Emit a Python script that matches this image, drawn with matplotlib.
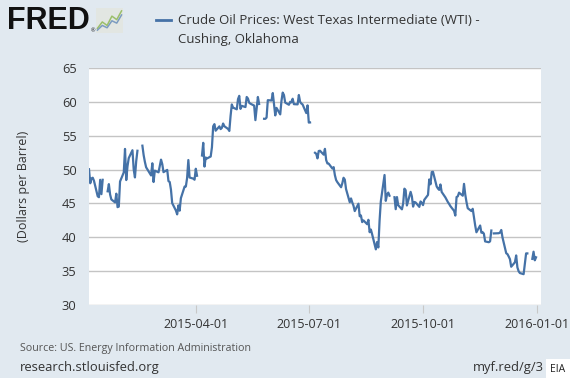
import numpy as np
import pandas as pd
import matplotlib
matplotlib.use("Agg")
import matplotlib.pyplot as plt
from matplotlib.patches import Rectangle

nan = np.nan
# WTI daily spot prices (USD/bbl), business days; NaN = holiday (no quote)
jan = [50.05, 47.98, 48.69, 48.80, 48.35, 46.06, 45.92, 48.49, 46.37, 48.49, nan,
       46.79, 47.85, 46.31, 45.59, 45.15, 46.44, 44.45, 44.53, 48.24]
feb = [49.58, 53.05, 48.45, 50.48, 51.69, 52.86, 50.02, 48.84, 51.21, 52.78, nan,
       53.53, 52.14, 51.14, 50.34, 49.45, 49.13, 50.93, 48.16, 49.84]
mar = [49.59, 50.54, 51.47, 50.81, 49.62, 49.95, 48.29, 48.17, 47.04, 45.04, 43.95,
       43.38, 44.71, 43.93, 45.78, 47.49, 47.50, 48.75, 51.41, 48.83, 48.66, 48.50]
apr = [50.12, 49.09, nan, 52.08, 53.95, 50.44, 51.78, 51.64, 51.93, 53.29, 56.39,
       56.71, 55.74, 56.38, 55.98, 56.16, 56.80, 56.40, 56.00, 55.70, 57.90, 59.62]
may = [59.15, 58.90, 60.40, 60.89, 58.96, 59.41, 59.23, 60.72, 60.49, 59.87, 59.73,
       59.45, 57.30, 58.96, 60.72, 59.69, nan, 57.50, 57.49, 57.68, 60.25]
jun = [60.20, 61.30, 59.67, 58.00, 59.11, 58.15, 60.15, 61.37, 61.01, 59.89, 59.57,
       60.01, 59.92, 60.46, 59.66, 59.63, 61.01, 60.01, 59.75, 59.62, 58.34, 59.48]
jul = [56.94, 56.96, nan, 52.48, 52.33, 51.65, 52.74, 52.78, 52.20, 53.06, 51.40,
       50.90, 50.88, 50.15, 50.36, 49.19, 48.45, 48.14, 47.39, 47.98, 48.79, 48.52, 47.12]
aug = [45.17, 45.74, 45.15, 44.66, 43.87, 44.96, 43.11, 43.22, 42.24, 42.50, 41.93,
       42.58, 40.75, 41.14, 40.45, 38.22, 39.30, 38.50, 42.45, 45.29, 49.20]
sep = [45.38, 46.30, 46.60, 46.14, nan, 45.92, 44.15, 45.94, 44.74, 44.13, 45.00,
       47.18, 46.96, 44.70, 46.71, 46.04, 44.53, 45.22, 45.14, 44.49, 45.29, 45.06]
oct_ = [44.75, 45.53, 46.26, 48.54, 47.82, 49.63, 49.68, 47.50, 47.20, 47.00, 47.80,
        46.70, 45.89, 45.55, 45.20, 44.93, 44.61, 43.90, 43.21, 45.94, 46.05, 46.59]
nov = [46.14, 47.89, 46.32, 45.20, 44.29, 43.87, 44.21, 42.93, 41.75, 40.74, 41.74,
       40.67, 40.75, 40.54, 39.39, 39.27, 39.40, 41.00, nan, 40.57, 40.60]
dec = [40.60, 40.70, 41.08, 39.97, 37.64, 37.51, 37.16, 36.76, 35.65, 36.31, 37.32,
       35.55, 34.98, 34.72, 34.55, 36.12, 37.62, 37.62, nan, 36.81, 37.87, 36.60, 37.04]
months = ["2015-01", "2015-02", "2015-03", "2015-04", "2015-05", "2015-06",
          "2015-07", "2015-08", "2015-09", "2015-10", "2015-11", "2015-12"]
month_values = [jan, feb, mar, apr, may, jun, jul, aug, sep, oct_, nov, dec]

y_ticks = [30, 35, 40, 45, 50, 55, 60, 65]
x_ticks = ["2015-04-01", "2015-07-01", "2015-10-01", "2016-01-01"]

title_line1 = "Crude Oil Prices: West Texas Intermediate (WTI) -"
title_line2 = "Cushing, Oklahoma"
y_label = "(Dollars per Barrel)"
source_text = "Source: US. Energy Information Administration"

dates = []
values = []
for m, vals in zip(months, month_values):
    start = pd.Timestamp(m + "-01")
    if m == "2015-01":
        start = pd.Timestamp("2015-01-05")
    d = pd.bdate_range(start, start + pd.offsets.MonthEnd(0))
    assert len(d) == len(vals), (m, len(d), len(vals))
    dates.extend(d)
    values.extend(vals)
dates = pd.DatetimeIndex(dates)
values = np.array(values, dtype=float)

BG = "#e1e9f0"
LINE = "#4572a7"
TXT = "#333333"
plt.rcParams['font.family'] = ['Open Sans', 'DejaVu Sans']

fig = plt.figure(figsize=(5.7, 3.78), dpi=100, facecolor=BG)
W, H = 570, 378
ax = fig.add_axes([89 / W, (H - 305) / H, 452 / W, 237 / H])
ax.set_facecolor("white")
ax.plot(dates, values, color=LINE, lw=1.6, solid_joinstyle="round")
ax.set_ylim(30, 65)
ax.set_xlim(pd.Timestamp("2015-01-05"), pd.Timestamp("2016-01-04"))
ax.set_yticks(y_ticks)
ax.set_xticks(pd.to_datetime(x_ticks))
ax.set_xticklabels(x_ticks)
ax.grid(axis="y", color="#c4c4c4", lw=1)
ax.set_axisbelow(True)
for s in ax.spines.values():
    s.set_visible(False)
ax.tick_params(axis="y", length=0, pad=9, labelsize=9.3, labelcolor=TXT)
ax.tick_params(axis="x", length=6, width=0.8, color="#c8c8c8", pad=3,
               labelsize=9, labelcolor=TXT)
ax.set_ylabel(y_label, fontsize=9, color=TXT, labelpad=23)

# Header: FRED logo + legend
fig.text(7 / W, 1 - 21 / H, "FRED", fontsize=22, fontweight="heavy",
         family="Liberation Sans", color="#111111", va="center", ha="left")
fig.text(91 / W, 1 - 31 / H, "®", fontsize=4, color="#111111", va="center")
icon = fig.add_axes([96 / W, 1 - 33 / H, 27 / W, 25 / H])
icon.set_facecolor("#e2e6e2")
icon.plot([0, 1, 2, 3, 4, 5], [0.5, 1.6, 1.0, 2.6, 2.0, 3.5], color="#9bbf6a", lw=1.1)
icon.plot([0, 1, 2, 3, 4, 5], [0.2, 1.0, 0.6, 1.8, 1.4, 2.8], color="#7c9cc0", lw=1.1)
icon.set_xlim(-0.3, 5.3)
icon.set_ylim(-0.3, 4)
icon.set_xticks([])
icon.set_yticks([])
for s in icon.spines.values():
    s.set_visible(False)

fig.add_artist(plt.Line2D([156 / W, 171 / W], [1 - 20 / H, 1 - 20 / H],
                          color=LINE, lw=2, transform=fig.transFigure))
fig.text(178 / W, 1 - 20 / H, title_line1, fontsize=9.5, color=TXT, va="center")
fig.text(178 / W, 1 - 40 / H, title_line2, fontsize=9.5, color=TXT, va="center")

# Footer
fig.text(20 / W, 1 - 349 / H, source_text, fontsize=7.7, color="#555555", va="center")
fig.text(20 / W, 1 - 368 / H, "research.stlouisfed.org", fontsize=9.4, color=TXT,
         va="center")
fig.text(544 / W, 1 - 368 / H, "myf.red/g/3", fontsize=9.4, color=TXT,
         va="center", ha="right")
fig.add_artist(Rectangle((546 / W, 0), 24 / W, 19 / H, transform=fig.transFigure,
                         facecolor="white", edgecolor="none", zorder=5))
fig.text(558 / W, 1 - 369 / H, "EIA", fontsize=7.5, color="#222222", va="center",
         ha="center", zorder=6)

fig.savefig("out.png", dpi=100, facecolor=BG)
